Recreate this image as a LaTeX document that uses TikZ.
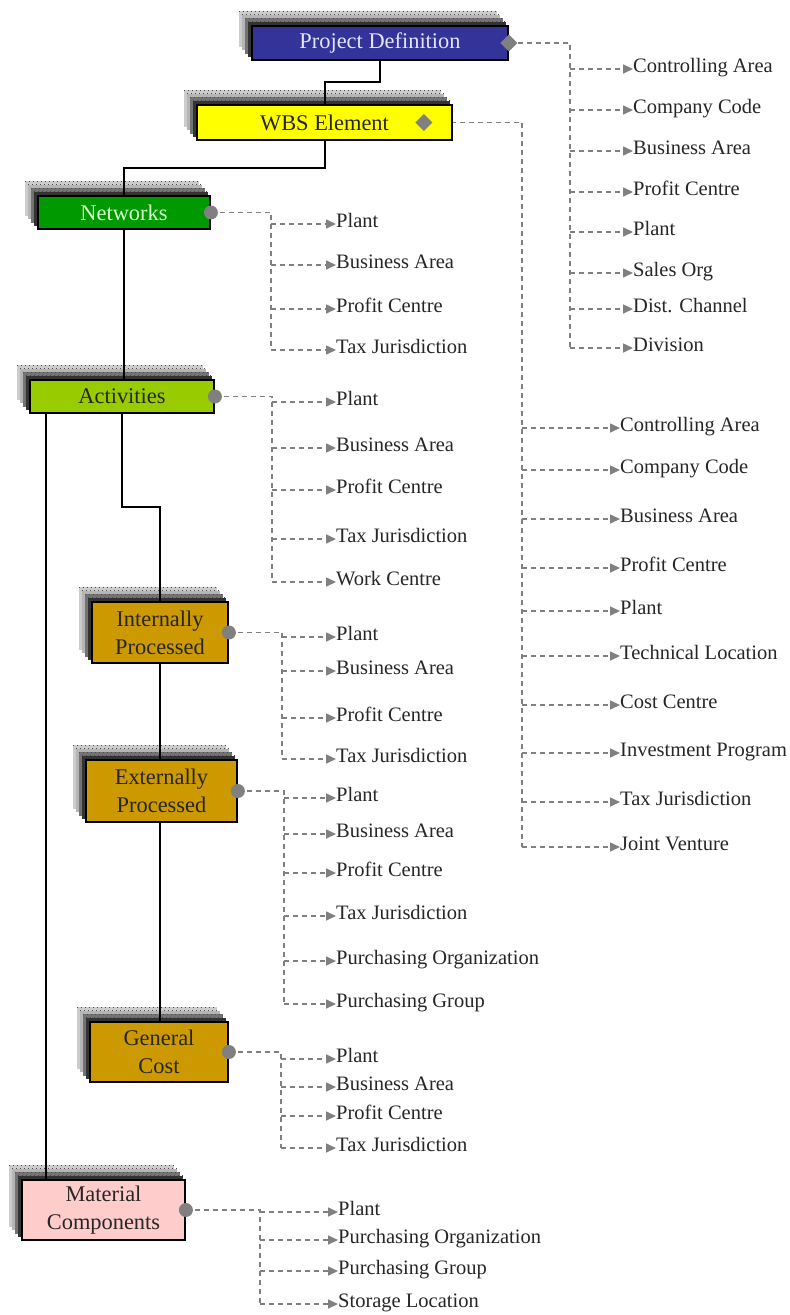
\documentclass[tikz,border=0pt]{standalone}
\usepackage{fontspec}
\setmainfont{Liberation Serif}
\usetikzlibrary{arrows.meta,backgrounds,shapes.geometric}
\definecolor{pdblue}{HTML}{333399}
\definecolor{pdtext}{HTML}{E4E4FF}
\definecolor{wbsyellow}{HTML}{FFFF00}
\definecolor{netgreen}{HTML}{009900}
\definecolor{nettext}{HTML}{D8FFD0}
\definecolor{actgreen}{HTML}{99CC00}
\definecolor{gold}{HTML}{CC9900}
\definecolor{pink}{HTML}{FFCCCC}
\begin{document}
\begin{tikzpicture}[x=1pt,y=-1pt,
  box/.style={draw=black,line width=1.8pt,rectangle,inner sep=0pt,
    font=\fontsize{22.4}{28}\selectfont,align=center,text=black!85},
  lbl/.style={anchor=west,inner sep=0pt,font=\fontsize{20.5}{24}\selectfont,
    text=black!85,text height=0.66em,text depth=0pt,yshift=-2pt},
  tree/.style={line width=2pt,black},
  dlink/.style={gray,line width=1.6pt,dash pattern=on 5pt off 4pt},
  dtip/.style={dlink,-{Triangle[length=10pt,width=9pt]}},
  dmark/.style={diamond,fill=gray,inner sep=0pt,minimum size=17pt},
  cmark/.style={circle,fill=gray,inner sep=0pt,minimum size=14pt}]
\useasboundingbox (0,0) rectangle (790,1315);

% ---- main boxes ----
\node[box,fill=pdblue,text=pdtext,minimum width=256pt,minimum height=34pt] (pd) at (380,43) {Project Definition};
\node[box,fill=wbsyellow,minimum width=255pt,minimum height=35pt] (wbs) at (324.5,122.5) {WBS Element};
\node[box,fill=netgreen,text=nettext,minimum width=172pt,minimum height=33pt] (net) at (124,212.5) {Networks};
\node[box,fill=actgreen,minimum width=184pt,minimum height=33pt] (act) at (122,396.5) {Activities};
\node[box,fill=gold,minimum width=136pt,minimum height=61pt] (ip) at (160,632.5) {Internally\\Processed};
\node[box,fill=gold,minimum width=151pt,minimum height=62pt] (ep) at (161.5,791) {Externally\\Processed};
\node[box,fill=gold,minimum width=138pt,minimum height=60pt] (gc) at (159,1052) {General\\Cost};
\node[box,fill=pink,minimum width=163pt,minimum height=60pt] (mc) at (103.5,1210) {Material\\Components};

% ---- stacked shadows behind the boxes ----
\begin{scope}[on background layer]
  \foreach \n in {pd,wbs,net,act,ip,ep,gc,mc}{
    \foreach \k/\c in {4/gray!40,3/gray!58,2/black!55,1/black!80}{
      \fill[\c] ([shift={(-3*\k,-3.5*\k)}]\n.north west) rectangle ([shift={(-3*\k,-3.5*\k)}]\n.south east);
      \draw[black!70,line width=0.8pt,dash pattern=on 1pt off 3pt]
        ([shift={(-3*\k,-3.5*\k)}]\n.north west) -- ([shift={(-3*\k,-3.5*\k)}]\n.north east);
    }
  }
\end{scope}

% ---- hierarchy lines ----
\coordinate (j1) at (350,82);
\coordinate (j2) at (200,168);
\coordinate (j3) at (140,507);
\draw[tree] (pd.south) |- (j1) -| (wbs.north);
\draw[tree] (wbs.south) |- (j2) -| (net.north);
\draw[tree] (net.south) -- (net.south |- act.north);
\draw[tree] (act.south) |- (j3) -| (ip.north);
\draw[tree] (ip.south) -- (ip.south |- ep.north);
\draw[tree] (ep.south -| ip.south) -- (ip.south |- gc.north);
\draw[tree] ([xshift=17pt]act.south west) -- ([xshift=17pt]act.south west |- mc.north);

% ---- markers ----
\node[dmark] (pdm) at (pd.east) {};
\node[dmark] (wbsm) at ([xshift=-29pt]wbs.east) {};
\node[cmark] (netm) at (net.east) {};
\node[cmark] (actm) at (act.east) {};
\node[cmark] (ipm) at (ip.east) {};
\node[cmark] (epm) at (ep.east) {};
\node[cmark] (gcm) at (gc.east) {};
\node[cmark] (mcm) at (mc.east) {};

% ---- attribute labels ----
\foreach \t/\y [count=\i] in {Controlling Area/67,Company Code/108,Business Area/149,Profit Centre/190,Plant/230,Sales Org/271,Dist. Channel/307,Division/346}
  \node[lbl] (pd\i) at (633,\y) {\t};
\foreach \t/\y [count=\i] in {Controlling Area/426,Company Code/468,Business Area/517,Profit Centre/566,Plant/609,Technical Location/654,Cost Centre/703,Investment Program/751,Tax Jurisdiction/800,Joint Venture/845}
  \node[lbl] (wb\i) at (620,\y) {\t};
\foreach \t/\y [count=\i] in {Plant/222,Business Area/263,Profit Centre/307,Tax Jurisdiction/348}
  \node[lbl] (nt\i) at (336,\y) {\t};
\foreach \t/\y [count=\i] in {Plant/400,Business Area/446,Profit Centre/488,Tax Jurisdiction/537,Work Centre/580}
  \node[lbl] (ac\i) at (336,\y) {\t};
\foreach \t/\y [count=\i] in {Plant/635,Business Area/669,Profit Centre/716,Tax Jurisdiction/757}
  \node[lbl] (in\i) at (336,\y) {\t};
\foreach \t/\y [count=\i] in {Plant/796,Business Area/832,Profit Centre/871,Tax Jurisdiction/914,Purchasing Organization/959,Purchasing Group/1002}
  \node[lbl] (ex\i) at (336,\y) {\t};
\foreach \t/\y [count=\i] in {Plant/1057,Business Area/1085,Profit Centre/1114,Tax Jurisdiction/1146}
  \node[lbl] (gn\i) at (336,\y) {\t};
\foreach \t/\y [count=\i] in {Plant/1210,Purchasing Organization/1238,Purchasing Group/1269,Storage Location/1302}
  \node[lbl] (mt\i) at (338,\y) {\t};

% ---- dashed assignment trees ----
\coordinate (pdbus) at (570,0);
\coordinate (wbbus) at (522,0);
\coordinate (ntbus) at (271,0);
\coordinate (acbus) at (272,0);
\coordinate (inbus) at (282,0);
\coordinate (exbus) at (284,0);
\coordinate (gnbus) at (281,0);
\coordinate (mtbus) at (260,0);
\begin{scope}[on background layer]
\draw[dlink] (pdm.center) -| (pdbus |- pd8.west);
\draw[dlink] (wbsm.center) -| (wbbus |- wb10.west);
\draw[dlink] (netm.center) -| (ntbus |- nt4.west);
\draw[dlink] (actm.center) -| (acbus |- ac5.west);
\draw[dlink] (ipm.center) -| (inbus |- in4.west);
\draw[dlink] (epm.center) -| (exbus |- ex6.west);
\draw[dlink] (gcm.center) -| (gnbus |- gn4.west);
\draw[dlink] (mcm.center) -| (mtbus |- mt4.west);
\end{scope}
\foreach \i in {1,...,8} \draw[dtip] (pdbus |- pd\i.west) -- (pd\i.west);
\foreach \i in {1,...,10} \draw[dtip] (wbbus |- wb\i.west) -- (wb\i.west);
\foreach \i in {1,...,4} \draw[dtip] (ntbus |- nt\i.west) -- (nt\i.west);
\foreach \i in {1,...,5} \draw[dtip] (acbus |- ac\i.west) -- (ac\i.west);
\foreach \i in {1,...,4} \draw[dtip] (inbus |- in\i.west) -- (in\i.west);
\foreach \i in {1,...,6} \draw[dtip] (exbus |- ex\i.west) -- (ex\i.west);
\foreach \i in {1,...,4} \draw[dtip] (gnbus |- gn\i.west) -- (gn\i.west);
\foreach \i in {1,...,4} \draw[dtip] (mtbus |- mt\i.west) -- (mt\i.west);
\end{tikzpicture}
\end{document}
